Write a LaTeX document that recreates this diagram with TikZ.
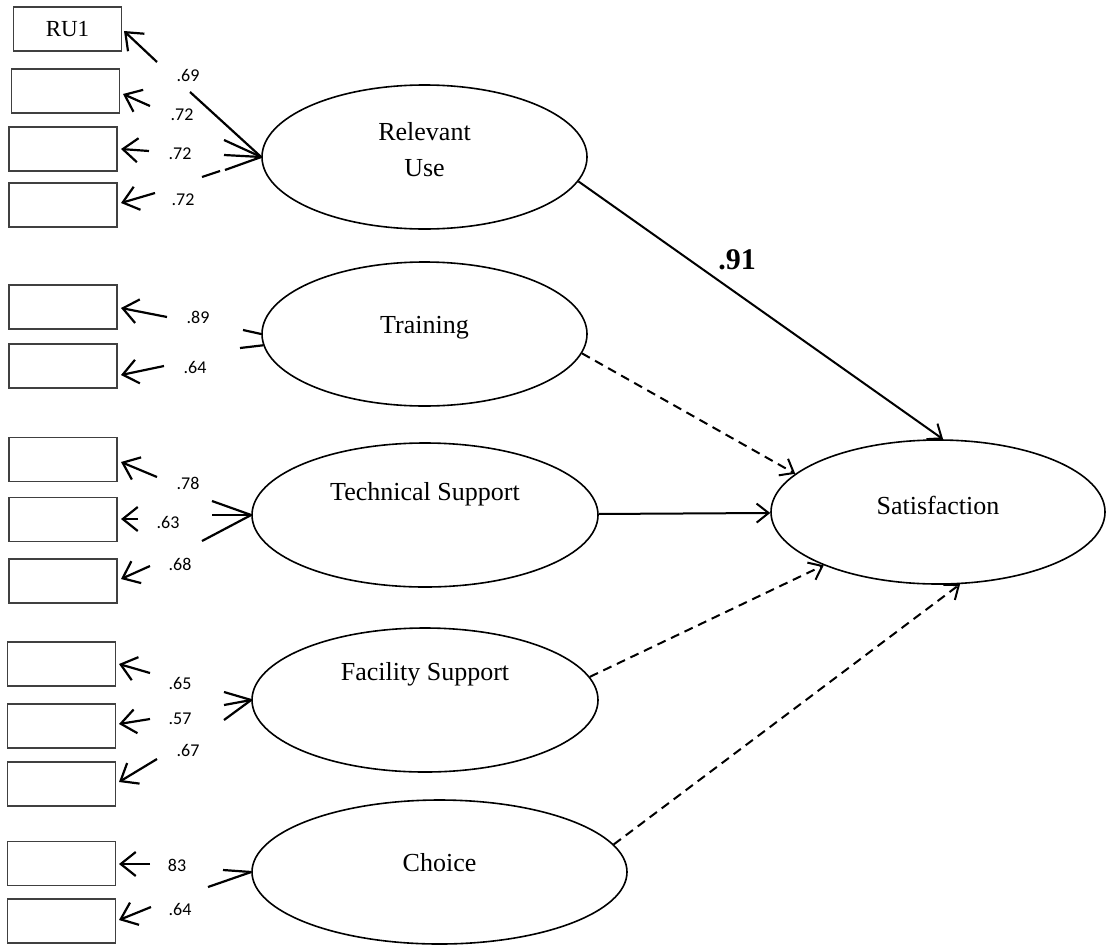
\documentclass[tikz,border=0pt]{standalone}
\usepackage{fontspec}
\setmainfont{Liberation Serif}
\newfontfamily\numfont{Carlito}
\usetikzlibrary{arrows.meta,shapes.geometric,calc}
\begin{document}
\begin{tikzpicture}[x=1pt,y=-1pt,
  ind/.style={draw=black!75, line width=1.2pt, minimum width=108pt, minimum height=44pt, inner sep=0pt, font=\fontsize{23}{26}\selectfont},
  lat/.style={draw, ellipse, line width=1.6pt, minimum width=325pt, minimum height=144pt, inner sep=0pt},
  lattext/.style={font=\fontsize{26}{36}\selectfont, align=center, inner sep=0pt},
  ld/.style={font=\numfont\fontsize{18}{20}\selectfont, inner sep=0pt},
  barb/.style={line width=2.2pt, -{Straight Barb[length=15pt,width=24pt]}},
  stub/.style={line width=2.2pt},
  reg/.style={line width=2pt, -{Straight Barb[length=12pt,width=19pt]}},
  dreg/.style={reg, dash pattern=on 9pt off 6pt},
  coef/.style={font=\bfseries\fontsize{30}{32}\selectfont, inner sep=0pt},
]
\useasboundingbox (0,0) rectangle (1107,945);

% indicator boxes
\node[ind] (b1) at (67.5,29) {RU1};
\node[ind] (b2) at (65.5,91) {};
\node[ind] (b3) at (63,149) {};
\node[ind] (b4) at (63,205) {};
\node[ind] (b5) at (63,307) {};
\node[ind] (b6) at (63,366) {};
\node[ind] (b7) at (63,459.5) {};
\node[ind] (b8) at (63,519.5) {};
\node[ind] (b9) at (63,581) {};
\node[ind] (b10) at (61.5,664) {};
\node[ind] (b11) at (61.5,726) {};
\node[ind] (b12) at (61.5,784) {};
\node[ind] (b13) at (61.5,863.5) {};
\node[ind] (b14) at (61.5,921) {};

% latent variables
\node[lat, label={[lattext, yshift=7pt]center:{Relevant\\Use}}] (ru) at (424.5,157) {};
\node[lat, label={[lattext, yshift=6pt]center:Training}] (tr) at (424.5,334) {};
\node[lat, minimum width=346pt, label={[lattext, yshift=21pt]center:Technical Support}] (ts) at (425,515) {};
\node[lat, minimum width=346pt, label={[lattext, yshift=26pt]center:Facility Support}] (fs) at (425,700) {};
\node[lat, minimum width=375pt, label={[lattext, yshift=9pt]center:Choice}] (ch) at (439.5,872) {};
\node[lat, minimum width=334pt, label={[lattext, yshift=7pt]center:Satisfaction}] (sat) at (938,512) {};

% loading arrow ends
\coordinate (t1) at (157,62);   \coordinate (h1) at (124,31);
\coordinate (t2) at (150,106);  \coordinate (h2) at (123,94);
\coordinate (t3) at (149,151);  \coordinate (h3) at (121,149);
\coordinate (t4) at (155,193);  \coordinate (h4) at (121,203);
\coordinate (t5) at (167,317);  \coordinate (h5) at (121,308);
\coordinate (t6) at (164,366);  \coordinate (h6) at (121,375);
\coordinate (t7) at (157,477);  \coordinate (h7) at (121,462);
\coordinate (t8) at (138,519);  \coordinate (h8) at (121,519);
\coordinate (t9) at (150,566);  \coordinate (h9) at (121,579);
\coordinate (t10) at (150,673); \coordinate (h10) at (119,664);
\coordinate (t11) at (150,719); \coordinate (h11) at (119,724);
\coordinate (t12) at (157,759); \coordinate (h12) at (119,782);
\coordinate (t13) at (150,864); \coordinate (h13) at (119,864);
\coordinate (t14) at (151,907); \coordinate (h14) at (119,920);

\foreach \i in {1,...,14} { \draw[barb] (t\i) -- (h\i); }

% loading values
\node[ld] (l1) at (188,75) {.69};
\node[ld] (l2) at (182,115) {.72};
\node[ld] (l3) at (180,154) {.72};
\node[ld] (l4) at (183,200) {.72};
\node[ld] (l5) at (198,317) {.89};
\node[ld] (l6) at (195,367) {.64};
\node[ld] (l7) at (188,483) {.78};
\node[ld] (l8) at (168,522) {.63};
\node[ld] (l9) at (180,564) {.68};
\node[ld] (l10) at (180,683) {.65};
\node[ld] (l11) at (180,719) {.57};
\node[ld] (l12) at (188,750) {.67};
\node[ld] (l13) at (177,865) {83};
\node[ld] (l14) at (180,909) {.64};

% stubs at latent variables
\coordinate (s1) at (190,92);
\coordinate (s2) at (224,140);
\coordinate (s3) at (224,155);
\coordinate (s4) at (202,177);
\coordinate (s4b) at (220,171);
\coordinate (s4c) at (225,170);
\draw[stub] (s1) -- (ru.west);
\draw[stub] (s2) -- (ru.west);
\draw[stub] (s3) -- (ru.west);
\draw[stub] (s4) -- (s4b);
\draw[stub] (s4c) -- (ru.west);

\coordinate (s5) at (243,330);
\coordinate (s6) at (240,348);
\draw[stub] (s5) -- (tr.west);
\draw[stub] (s6) -- (tr.184);

\coordinate (s7) at (212,501);
\coordinate (s8) at (212,515);
\coordinate (s9) at (202,541);
\draw[stub] (s7) -- (ts.west);
\draw[stub] (s8) -- (ts.west);
\draw[stub] (s9) -- (ts.west);

\coordinate (s10) at (224,692);
\coordinate (s11) at (224,705);
\coordinate (s12) at (224,720);
\draw[stub] (s10) -- (fs.west);
\draw[stub] (s11) -- (fs.west);
\draw[stub] (s12) -- (fs.west);

\coordinate (s13) at (223,870);
\coordinate (s14) at (208,887);
\draw[stub] (s13) -- (ch.west);
\draw[stub] (s14) -- (ch.west);

% structural paths
\draw[reg] (ru.-9.3) -- (sat.86);
\node[coef] (p1) at (737,260) {.91};
\draw[dreg] (tr.-7) -- (sat.165);
\draw[reg] (ts) -- (sat);
\draw[dreg] (fs.8) -- (sat.205);
\draw[dreg] (ch.9) -- (sat.-73);
\end{tikzpicture}
\end{document}
